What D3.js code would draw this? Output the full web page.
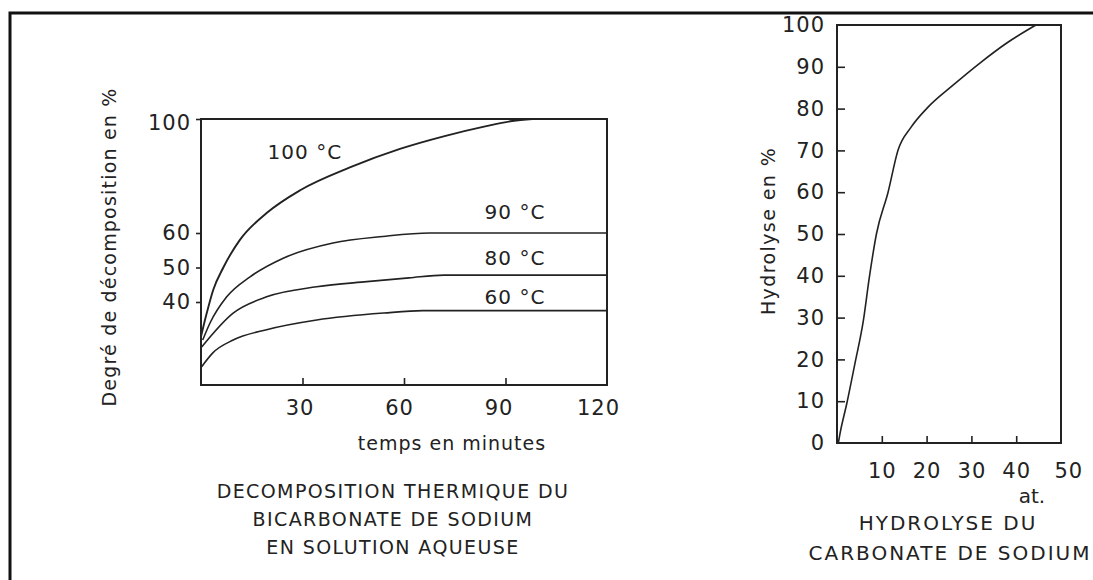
<!DOCTYPE html>
<html>
<head>
<meta charset="utf-8">
<title>Décomposition thermique / Hydrolyse</title>
<style>
  body { margin: 0; background: #fff; }
  text { font-family: "DejaVu Sans", sans-serif; fill: #222; }
  .axis text { font-size: 21px; letter-spacing: 1px; }
  .axis line, .axis path { stroke: #222; stroke-width: 1.6; }
  .curve { fill: none; stroke: #222; stroke-width: 1.6; }
  .frame { fill: none; stroke: #222; stroke-width: 2; }
</style>
<script src="https://d3js.org/d3.v7.min.js"></script>
</head>
<body>
<div id="chart"></div>
<script>
// --- left chart: decomposition of sodium bicarbonate (time in minutes, %)
var t100 = [0, 1.7, 3.6, 6.6, 11.5, 19.4, 29.3, 44, 58.8, 72, 84, 92, 98];
var v100 = [30, 36.8, 43.5, 50, 58, 67, 75, 83, 89.5, 94, 97.4, 99.3, 100];
var t90 = [0.5, 2.7, 7.6, 14.5, 24.3, 39, 53.8, 67.6, 120];
var v90 = [29, 34, 41.5, 47.3, 52.7, 57.1, 59, 60, 60];
var t80 = [0.2, 9.5, 19.4, 34.2, 49, 61.5, 71.8, 120];
var v80 = [27, 36.8, 41.5, 44.4, 45.9, 47, 47.8, 47.8];
var t60 = [0.2, 3.5, 9.5, 19.4, 34.2, 54, 65.6, 120];
var v60 = [21.3, 25.3, 29, 32, 34.8, 36.8, 37.5, 37.5];
var tempLabels = ["100 °C", "90 °C", "80 °C", "60 °C"];
var labelT = [30.7, 92.8, 92.8, 92.8];
var labelV = [88.4, 67.4, 52.8, 41.4];
var leftXTicks = [30, 60, 90, 120];
var leftYTicks = [40, 50, 60, 100];
var leftTitle = ["DECOMPOSITION THERMIQUE DU", "BICARBONATE DE SODIUM", "EN SOLUTION AQUEUSE"];

// --- right chart: hydrolysis of sodium carbonate
var atoms = [0.3, 0.7, 2.2, 4, 5.9, 7.2, 8.8, 11.4, 13.6, 16.5, 20, 25.9, 31.9, 37.9, 44.4];
var hydro = [0, 2.4, 9.5, 19, 29.4, 39.5, 50, 60, 70, 75.5, 80, 85.6, 90.9, 95.7, 100];
var rightXTicks = [10, 20, 30, 40, 50];
var rightYTicks = [0, 10, 20, 30, 40, 50, 60, 70, 80, 90, 100];
var rightTitle = ["HYDROLYSE DU", "CARBONATE DE SODIUM"];

var W = 1093, H = 580;
var svg = d3.select("#chart").append("svg")
  .attr("width", W).attr("height", H);

// outer frame (left and top edge only)
svg.append("path")
  .attr("d", "M10," + H + "V13H" + W)
  .attr("fill", "none").attr("stroke", "#111").attr("stroke-width", 3);

/* ---------- left chart ---------- */
var L = {left: 201, right: 607, top: 119, bottom: 385};
var x1 = d3.scaleLinear().domain([0, 120]).range([L.left, L.right]);
// the printed scale is not even: piecewise linear
var y1 = d3.scaleLinear().domain([16, 40, 60, 100]).range([L.bottom, 302, 233, L.top]);

var g1 = svg.append("g");

g1.append("rect").attr("class", "frame")
  .attr("x", L.left).attr("y", L.top)
  .attr("width", L.right - L.left).attr("height", L.bottom - L.top);

g1.append("g").attr("class", "axis")
  .attr("transform", "translate(0," + L.bottom + ")")
  .call(d3.axisBottom(x1).tickValues(leftXTicks).tickSizeInner(-7).tickSizeOuter(0).tickPadding(15))
  .call(g => g.select(".domain").remove())
  .call(g => g.selectAll("text").attr("dx", (d, i) => -3 - i * 2))
  .call(g => g.selectAll(".tick").filter(d => d === 120).select("line").remove());

g1.append("g").attr("class", "axis")
  .attr("transform", "translate(" + L.left + ",0)")
  .call(d3.axisLeft(y1).tickValues(leftYTicks).tickSizeInner(5).tickSizeOuter(0).tickPadding(5))
  .call(g => g.select(".domain").remove())
  .call(g => g.selectAll(".tick").filter(d => d === 100).select("text").attr("dy", "0.5em"));

var line1 = d3.line()
  .x(d => x1(d[0]))
  .y(d => y1(d[1]))
  .curve(d3.curveMonotoneX);

[[t100, v100], [t90, v90], [t80, v80], [t60, v60]].forEach(function(s, i) {
  g1.append("path").attr("class", "curve")
    .attr("d", line1(d3.zip(s[0], s[1])))
    .style("stroke-width", i === 0 ? 1.9 : 1.6);
});

g1.selectAll(".templabel")
  .data(tempLabels).enter()
  .append("text").attr("class", "templabel")
  .attr("x", (d, i) => x1(labelT[i]))
  .attr("y", (d, i) => y1(labelV[i]))
  .attr("text-anchor", "middle")
  .attr("dominant-baseline", "central")
  .style("font-size", "20px")
  .style("letter-spacing", "1px")
  .text(d => d);

g1.append("text")
  .attr("x", 452).attr("y", 450)
  .attr("text-anchor", "middle")
  .style("font-size", "19px")
  .style("letter-spacing", "1px")
  .text("temps en minutes");

g1.append("text")
  .attr("transform", "translate(116,247) rotate(-90)")
  .attr("text-anchor", "middle")
  .style("font-size", "19px")
  .style("letter-spacing", "1.2px")
  .text("Degré de décomposition en %");

g1.selectAll(".title")
  .data(leftTitle).enter()
  .append("text").attr("class", "title")
  .attr("x", 393)
  .attr("y", (d, i) => 498 + i * 28)
  .attr("text-anchor", "middle")
  .style("font-size", "19px")
  .style("letter-spacing", "1.4px")
  .text(d => d);

/* ---------- right chart ---------- */
var R = {left: 837, right: 1061, top: 25, bottom: 443};
var x2 = d3.scaleLinear().domain([0, 50]).range([R.left, R.right]);
var y2 = d3.scaleLinear().domain([0, 100]).range([R.bottom, R.top]);

var g2 = svg.append("g");

g2.append("rect").attr("class", "frame")
  .attr("x", R.left).attr("y", R.top)
  .attr("width", R.right - R.left).attr("height", R.bottom - R.top);

g2.append("g").attr("class", "axis")
  .attr("transform", "translate(0," + R.bottom + ")")
  .call(d3.axisBottom(x2).tickValues(rightXTicks).tickSizeInner(-7).tickSizeOuter(0).tickPadding(20))
  .call(g => g.select(".domain").remove())
  .call(g => g.selectAll(".tick").filter(d => d === 50).select("text").attr("dx", "0.35em"))
  .call(g => g.selectAll(".tick").filter(d => d === 50).select("line").remove());

g2.append("g").attr("class", "axis")
  .attr("transform", "translate(" + R.left + ",0)")
  .call(d3.axisLeft(y2).tickValues(rightYTicks).tickSizeInner(-8).tickSizeOuter(0).tickPadding(12))
  .call(g => g.select(".domain").remove())
  .call(g => g.selectAll(".tick").filter(d => d === 0 || d === 100).select("line").remove());

var line2 = d3.line()
  .x(d => x2(d[0]))
  .y(d => y2(d[1]))
  .curve(d3.curveMonotoneX);

g2.append("path").attr("class", "curve")
  .attr("d", line2(d3.zip(atoms, hydro)));

g2.append("text")
  .attr("x", 1032).attr("y", 503)
  .attr("text-anchor", "middle")
  .style("font-size", "20px")
  .text("at.");

g2.append("text")
  .attr("transform", "translate(775,231) rotate(-90)")
  .attr("text-anchor", "middle")
  .style("font-size", "19px")
  .style("letter-spacing", "1.4px")
  .text("Hydrolyse en %");

g2.selectAll(".title")
  .data(rightTitle).enter()
  .append("text").attr("class", "title")
  .attr("x", (d, i) => i === 0 ? 948 : 950)
  .attr("y", (d, i) => 530 + i * 30)
  .attr("text-anchor", "middle")
  .style("font-size", "20px")
  .style("letter-spacing", "2px")
  .text(d => d);
</script>
</body>
</html>
